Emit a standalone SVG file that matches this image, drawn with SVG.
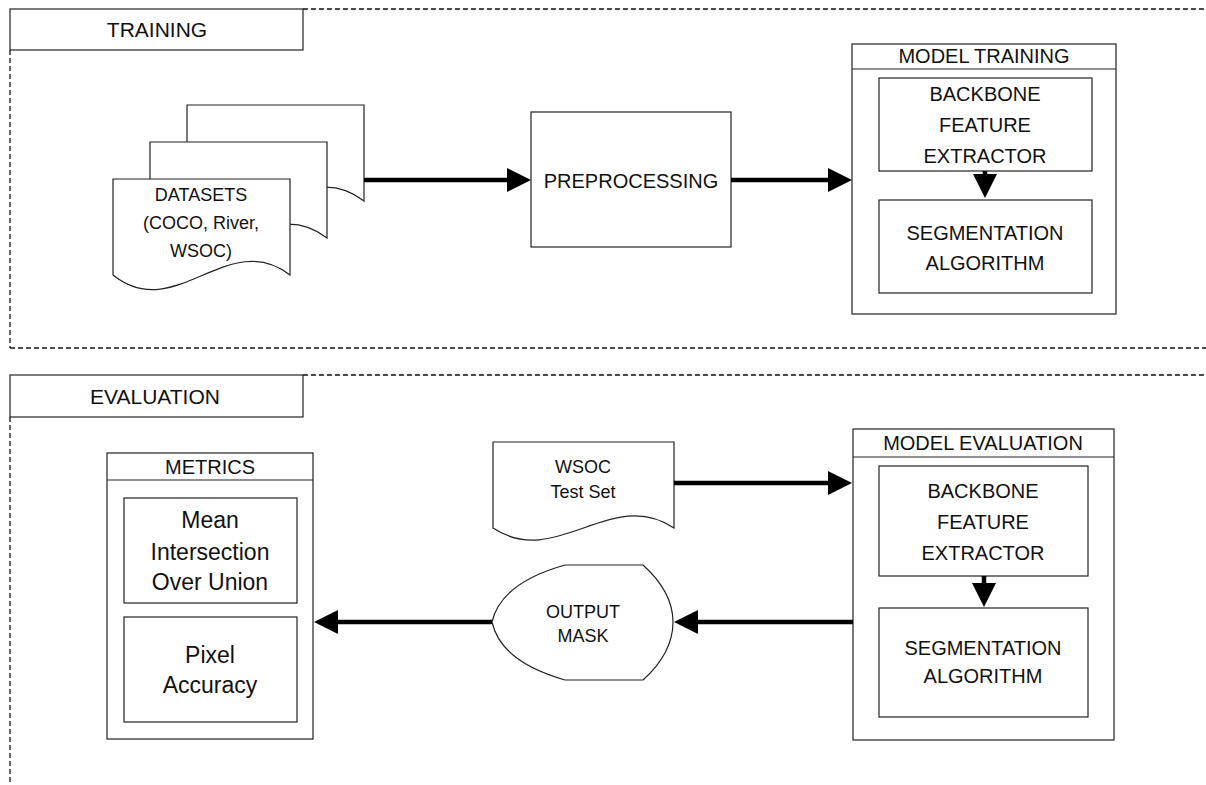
<svg xmlns="http://www.w3.org/2000/svg" width="1206" height="785" viewBox="0 0 1206 785">
<style>
  .box{fill:#fff;stroke:#222;stroke-width:1.2}
  .dash{fill:none;stroke:#111;stroke-width:1.3;stroke-dasharray:5 3}
  .t{font-family:"Liberation Sans",Arial,sans-serif;fill:#111;text-anchor:middle}
  .conn{stroke:#000;stroke-width:4.5;fill:none;marker-end:url(#ah)}
</style>
<defs>
  <marker id="ah" markerUnits="userSpaceOnUse" markerWidth="24" markerHeight="24" viewBox="0 0 24 24" refX="2" refY="12" orient="auto">
    <path d="M0,0 L24,12 L0,24 Z" fill="#000"/>
  </marker>
</defs>
<rect width="1206" height="785" fill="#fff"/>

<g id="training-section">
  <line class="dash" x1="303" y1="9" x2="1206" y2="9"/>
  <line class="dash" x1="10" y1="50" x2="10" y2="348"/>
  <line class="dash" x1="10" y1="348" x2="1206" y2="348"/>
  <rect class="box" x="10" y="9" width="293" height="41"/>
  <text class="t" x="157" y="37" font-size="21">TRAINING</text>
</g>

<g id="evaluation-section">
  <line class="dash" x1="303" y1="375" x2="1206" y2="375"/>
  <line class="dash" x1="10" y1="417" x2="10" y2="785"/>
  <rect class="box" x="10" y="375" width="293" height="42"/>
  <text class="t" x="155" y="404" font-size="21">EVALUATION</text>
</g>

<g id="datasets">
  <path class="box" d="M187,105 H364 V201 C302,153 249,249 187,201 Z"/>
  <path class="box" d="M150,142 H327 V238 C265,190 212,286 150,238 Z"/>
  <path class="box" d="M113,179 H290 V275 C228,227 175,325 113,275 Z"/>
  <text class="t" x="201" y="201" font-size="18">DATASETS</text>
  <text class="t" x="201" y="229" font-size="18">(COCO, River,</text>
  <text class="t" x="201" y="257" font-size="18">WSOC)</text>
</g>

<g id="preprocessing">
  <rect class="box" x="531" y="112" width="200" height="135"/>
  <text class="t" x="631" y="188" font-size="20">PREPROCESSING</text>
</g>

<g id="model-training">
  <rect class="box" x="852" y="44" width="264" height="270"/>
  <line class="box" x1="852" y1="69" x2="1116" y2="69"/>
  <text class="t" x="984" y="63" font-size="20">MODEL TRAINING</text>
  <g id="mt-backbone">
    <rect class="box" x="879" y="78" width="213" height="93"/>
    <text class="t" x="985" y="101" font-size="20">BACKBONE</text>
    <text class="t" x="985" y="132" font-size="20">FEATURE</text>
    <text class="t" x="985" y="163" font-size="20">EXTRACTOR</text>
  </g>
  <g id="mt-segmentation">
    <rect class="box" x="879" y="200" width="213" height="93"/>
    <text class="t" x="985" y="240" font-size="20">SEGMENTATION</text>
    <text class="t" x="985" y="270" font-size="20">ALGORITHM</text>
  </g>
</g>

<g id="wsoc-test-set">
  <path class="box" d="M493,442 H674 V528 C611,486 556,570 493,528 Z"/>
  <text class="t" x="583" y="473" font-size="18">WSOC</text>
  <text class="t" x="583" y="498" font-size="18">Test Set</text>
</g>

<g id="model-evaluation">
  <rect class="box" x="853" y="429" width="261" height="311"/>
  <line class="box" x1="853" y1="457" x2="1114" y2="457"/>
  <text class="t" x="983" y="450" font-size="20">MODEL EVALUATION</text>
  <g id="me-backbone">
    <rect class="box" x="879" y="466" width="209" height="110"/>
    <text class="t" x="983" y="498" font-size="20">BACKBONE</text>
    <text class="t" x="983" y="529" font-size="20">FEATURE</text>
    <text class="t" x="983" y="560" font-size="20">EXTRACTOR</text>
  </g>
  <g id="me-segmentation">
    <rect class="box" x="879" y="608" width="209" height="109"/>
    <text class="t" x="983" y="655" font-size="20">SEGMENTATION</text>
    <text class="t" x="983" y="683" font-size="20">ALGORITHM</text>
  </g>
</g>

<g id="output-mask">
  <path class="box" d="M492,622 Q501,583 565,565 H643 C663,583 673,602 673,622 C673,644 663,662 643,680 H565 Q501,662 492,622 Z"/>
  <text class="t" x="583" y="618" font-size="18">OUTPUT</text>
  <text class="t" x="583" y="642" font-size="18">MASK</text>
</g>

<g id="metrics">
  <rect class="box" x="107" y="453" width="206" height="286"/>
  <line class="box" x1="107" y1="480" x2="313" y2="480"/>
  <text class="t" x="210" y="474" font-size="20">METRICS</text>
  <g id="miou">
    <rect class="box" x="124" y="498" width="173" height="105"/>
    <text class="t" x="210" y="528" font-size="23">Mean</text>
    <text class="t" x="210" y="560" font-size="23">Intersection</text>
    <text class="t" x="210" y="590" font-size="23">Over Union</text>
  </g>
  <g id="pixel-accuracy">
    <rect class="box" x="124" y="617" width="173" height="105"/>
    <text class="t" x="210" y="663" font-size="23">Pixel</text>
    <text class="t" x="210" y="693" font-size="23">Accuracy</text>
  </g>
</g>

<g id="connectors">
  <line class="conn" x1="364" y1="180" x2="509" y2="180"/>
  <line class="conn" x1="731" y1="180" x2="830" y2="180"/>
  <line class="conn" x1="985" y1="171" x2="985" y2="176"/>
  <line class="conn" x1="674" y1="483" x2="830" y2="483"/>
  <line class="conn" x1="984" y1="576" x2="984" y2="585"/>
  <line class="conn" x1="853" y1="622" x2="696" y2="622"/>
  <line class="conn" x1="492" y1="622" x2="336" y2="622"/>
</g>
</svg>
